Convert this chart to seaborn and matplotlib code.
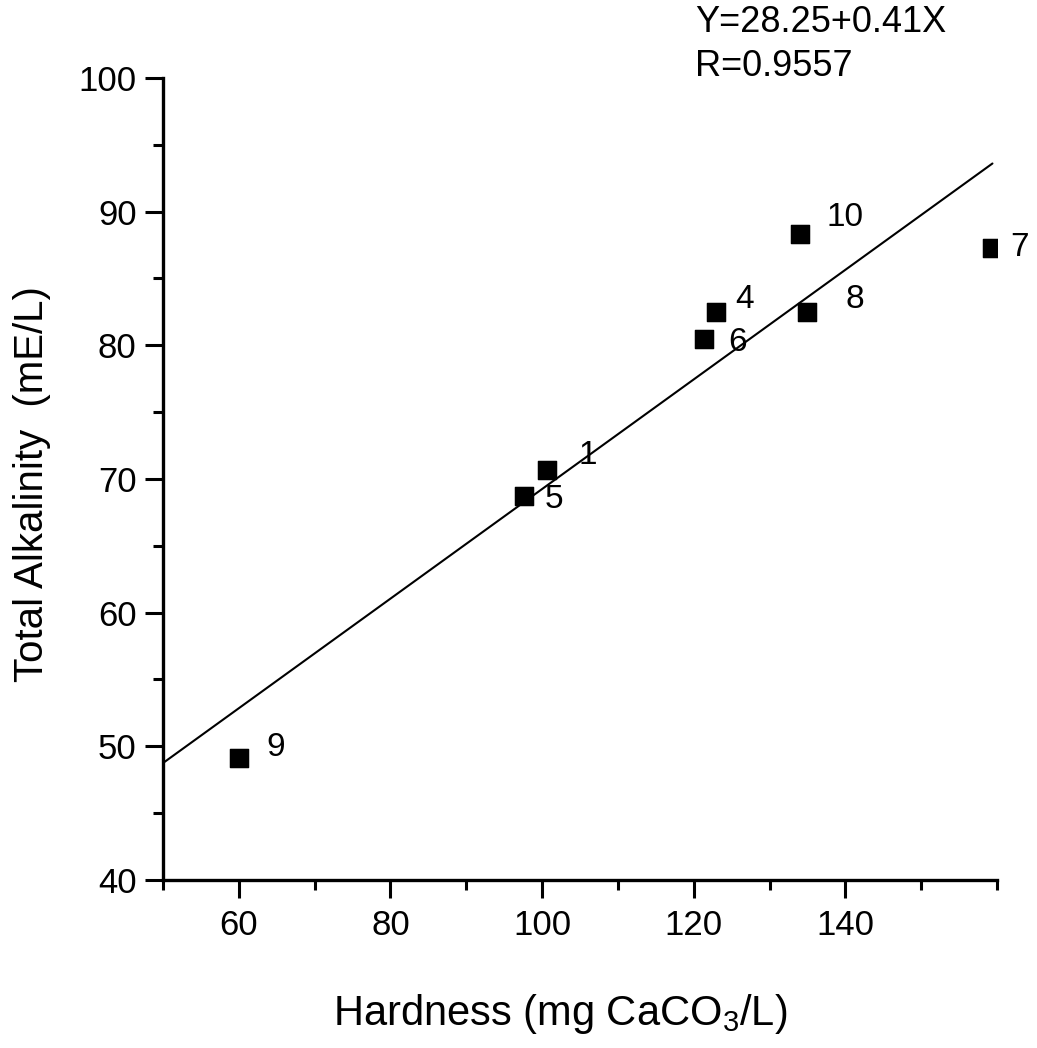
import numpy as np
import pandas as pd
import matplotlib
matplotlib.use("Agg")
import matplotlib.pyplot as plt
import seaborn as sns
from matplotlib.ticker import MultipleLocator

# ----------------------------------
# Data
# ----------------------------------
sample_id = ["9", "5", "1", "6", "4", "10", "8", "7"]
hardness = [60.0, 97.6, 100.7, 121.4, 123.0, 134.0, 135.0, 159.4]
alkalinity = [49.1, 68.7, 70.7, 80.5, 82.5, 88.3, 82.5, 87.3]

# fit printed on the chart
intercept = 28.25
slope = 0.41
r_value = 0.9557

# label offsets (pixels) so numbers sit beside their squares
label_dx = [28, 21, 31, 24, 19, 27, 38, 18]
label_dy = [11, -3, 14, -4, 12, 17, 12, 0]

df = pd.DataFrame({"id": sample_id, "hardness": hardness, "alkalinity": alkalinity})
# fit line runs from the left axis edge to the last sample
fit_x = np.array([50.0, max(hardness)])
fit_df = pd.DataFrame({"hardness": fit_x, "alkalinity": intercept + slope * fit_x})

# ----------------------------------
# Style
# ----------------------------------
sns.set_theme(style="ticks")
plt.rcParams["font.family"] = ["Liberation Sans", "DejaVu Sans"]
plt.rcParams["mathtext.fontset"] = "custom"
plt.rcParams["mathtext.rm"] = "Liberation Sans"
plt.rcParams["mathtext.it"] = "Liberation Sans"
plt.rcParams["text.color"] = "black"

fig = plt.figure(figsize=(10.37, 10.48), dpi=100)
ax = fig.add_axes([163 / 1037, 168 / 1048, 834 / 1037, 802 / 1048])

sns.lineplot(data=fit_df, x="hardness", y="alkalinity", ax=ax,
             color="black", linewidth=1.5)
sns.scatterplot(data=df, x="hardness", y="alkalinity", ax=ax,
                marker="s", s=180, color="black", edgecolor="black", zorder=3)

for sid, x, y, dx, dy in zip(sample_id, hardness, alkalinity, label_dx, label_dy):
    ax.annotate(sid, (x, y), xytext=(dx, dy), textcoords="offset pixels",
                ha="left", va="center", fontsize=24, color="black")

ax.set_xlim(50, 160)
ax.set_ylim(40, 100)
ax.set_xticks([60, 80, 100, 120, 140])
ax.xaxis.set_minor_locator(MultipleLocator(10))
ax.yaxis.set_major_locator(MultipleLocator(10))
ax.yaxis.set_minor_locator(MultipleLocator(5))

sns.despine(ax=ax)
for side in ["left", "bottom"]:
    ax.spines[side].set_linewidth(2.4)
    ax.spines[side].set_color("black")

ax.tick_params(axis="both", which="major", length=13, width=2.2, labelsize=25,
               colors="black", direction="out")
ax.tick_params(axis="both", which="minor", length=7, width=2.2, direction="out",
               colors="black")
ax.tick_params(axis="x", which="major", pad=8)
ax.tick_params(axis="y", which="major", pad=6)

ax.set_xlabel("")
ax.set_ylabel("")

fig.text(560 / 1037, 1 - 1014 / 1048, "Hardness (mg CaCO$_3$/L)",
         ha="center", va="center", fontsize=30)
fig.text(32 / 1037, 1 - 484 / 1048, "Total Alkalinity  (mE/L)",
         ha="center", va="center", rotation=90, fontsize=29)

fig.text(695 / 1037, 1 - 22 / 1048, f"Y={intercept}+{slope}X",
         ha="left", va="center", fontsize=26)
fig.text(695 / 1037, 1 - 67 / 1048, f"R={r_value}",
         ha="left", va="center", fontsize=26)

fig.savefig("out.png", dpi=100, facecolor="white")
